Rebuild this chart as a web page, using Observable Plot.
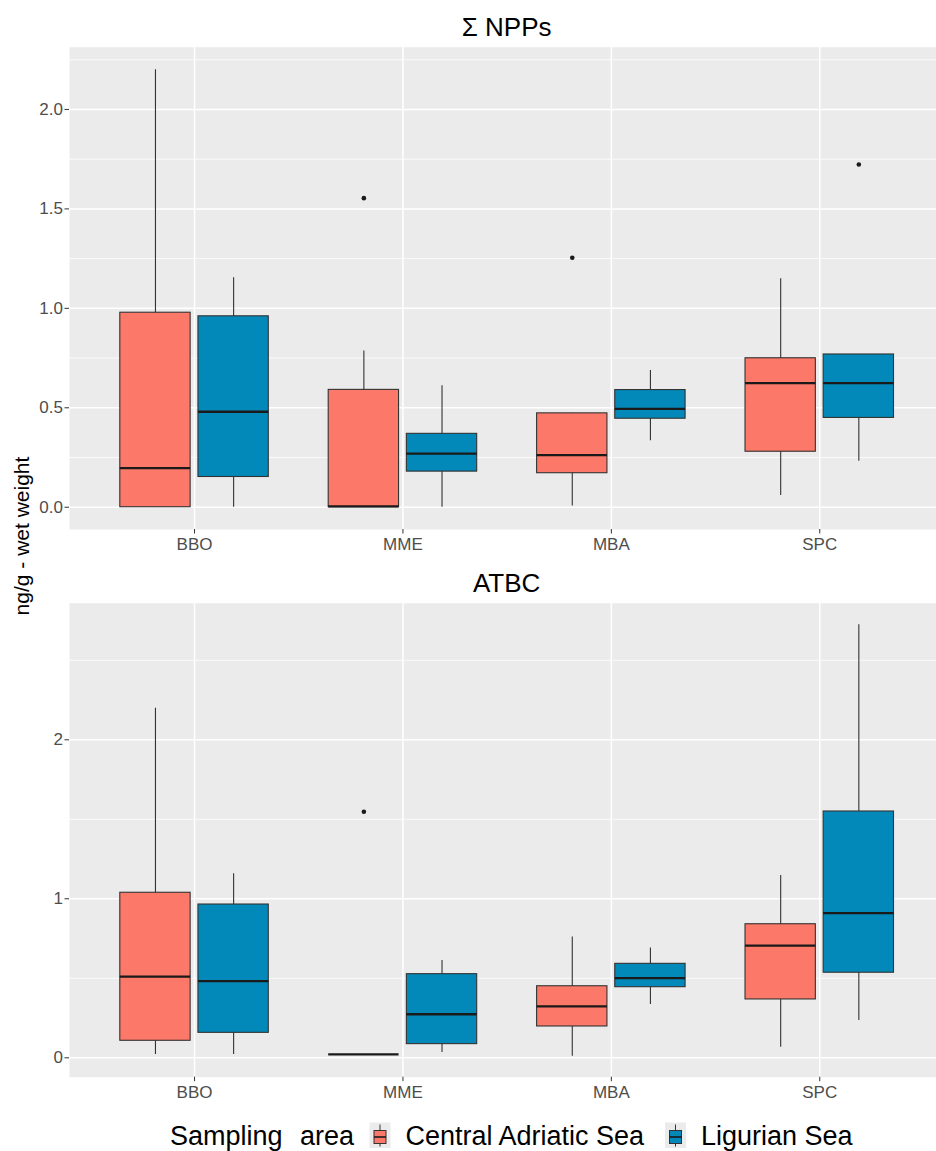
<!DOCTYPE html>
<html><head><meta charset="utf-8">
<script src="https://cdn.jsdelivr.net/npm/d3@7"></script>
<script src="https://cdn.jsdelivr.net/npm/@observablehq/plot@0.6"></script>
<style>
html,body{margin:0;padding:0;overflow:hidden;background:#fff;}
#wrap{position:relative;width:936px;height:1151px;overflow:hidden;background:#fff;font-family:"Liberation Sans",Arial,sans-serif;}
#wrap > * {position:absolute;left:0;}
</style></head><body><div id="wrap"></div>
<script>
// ---------- data ----------
const categories = ["BBO", "MME", "MBA", "SPC"];
const groups = ["Central Adriatic Sea", "Ligurian Sea"];
const groupColors = ["#FC7868", "#0289B9"];
const panelTitles = ["Σ NPPs", "ATBC"];
const yTitle = "ng/g - wet weight";
const legendTitle = "Sampling area";

// [lower whisker, Q1, median, Q3, upper whisker] for BBO, MME, MBA, SPC
const nppCentral  = [[0, 0, 0.197, 0.978, 2.2], [0, 0, 0.004, 0.59, 0.786], [0.006, 0.171, 0.262, 0.472, 0.472], [0.059, 0.279, 0.624, 0.749, 1.149]];
const nppLigurian = [[0, 0.152, 0.48, 0.96, 1.154], [0, 0.179, 0.27, 0.369, 0.611], [0.334, 0.445, 0.495, 0.589, 0.688], [0.231, 0.449, 0.624, 0.768, 0.768]];
const nppOutlierCats = ["MME", "MBA", "SPC"];
const nppOutlierGroups = ["Central Adriatic Sea", "Central Adriatic Sea", "Ligurian Sea"];
const nppOutlierValues = [1.554, 1.254, 1.723];

const atbcCentral  = [[0.021, 0.107, 0.511, 1.038, 2.199], [0.021, 0.021, 0.021, 0.021, 0.021], [0.01, 0.197, 0.323, 0.45, 0.759], [0.067, 0.367, 0.706, 0.84, 1.147]];
const atbcLigurian = [[0.021, 0.157, 0.482, 0.964, 1.157], [0.033, 0.086, 0.274, 0.526, 0.612], [0.335, 0.444, 0.501, 0.591, 0.69], [0.235, 0.535, 0.91, 1.549, 2.723]];
const atbcOutlierCats = ["MME"];
const atbcOutlierGroups = ["Central Adriatic Sea"];
const atbcOutlierValues = [1.547];

const nppTicks = [0, 0.5, 1, 1.5, 2];
const nppTickLabels = ["0.0", "0.5", "1.0", "1.5", "2.0"];
const nppMinor = [0.25, 0.75, 1.25, 1.75, 2.25];
const atbcTicks = [0, 1, 2];
const atbcTickLabels = ["0", "1", "2"];
const atbcMinor = [0.5, 1.5, 2.5];

// ---------- layout ----------
const FONT = "Liberation Sans, Arial, Helvetica, sans-serif";
const W = 946, ML = 69, MR = 1.7;
const step = (W - MR - ML) / 4.2;
const dodge = step * 0.75 / 4;
const boxW = step * 0.75 / 2 * 0.9;
const innerInset = step / 2 - dodge - boxW / 2;
const outerInset = step - innerInset - boxW;

function rowsFor(central, ligurian) {
  const rows = [];
  [central, ligurian].forEach((arr, gi) => arr.forEach((v, ci) => rows.push({
    cat: categories[ci], group: groups[gi], low: v[0], q1: v[1], med: v[2], q3: v[3], high: v[4]
  })));
  return rows;
}
function outliersFor(cats, grps, vals) {
  return cats.map((c, i) => ({cat: c, group: grps[i], value: vals[i]}));
}

function panel({rows, outliers, domain, ticks, tickLabels, minor, height, mTop, mBottom}) {
  const marks = [
    Plot.frame({fill: "#EBEBEB", stroke: "none"}),
    Plot.gridY(minor, {stroke: "white", strokeOpacity: 1, strokeWidth: 0.8}),
    Plot.gridY(ticks, {stroke: "white", strokeOpacity: 1, strokeWidth: 1.5}),
    Plot.gridX(categories, {stroke: "white", strokeOpacity: 1, strokeWidth: 1.5})
  ];
  groups.forEach((g, gi) => {
    const off = gi === 0 ? -dodge : dodge;
    const iL = gi === 0 ? innerInset : outerInset;
    const iR = gi === 0 ? outerInset : innerInset;
    const r = rows.filter(d => d.group === g);
    marks.push(
      Plot.ruleX(r, {x: "cat", y1: "low", y2: "high", dx: off, stroke: "#333", strokeWidth: 1.1}),
      Plot.barY(r, {x: "cat", y1: "q1", y2: "q3", fill: groupColors[gi], stroke: "#333", strokeWidth: 1.1, insetLeft: iL, insetRight: iR}),
      Plot.tickY(r, {x: "cat", y: "med", stroke: "#1a1a1a", strokeWidth: 2.3, insetLeft: iL, insetRight: iR}),
      Plot.dot(outliers.filter(d => d.group === g), {x: "cat", y: "value", dx: off, r: 2.3, fill: "#1a1a1a", stroke: "none"})
    );
  });
  marks.push(
    Plot.axisY(ticks, {tickFormat: d => tickLabels[ticks.indexOf(d)], tickSize: 4.5, tickPadding: 2, fontSize: 17, stroke: "#333", fill: "#4D4D4D", label: null}),
    Plot.axisX({tickSize: 4.5, tickPadding: 4, fontSize: 17, stroke: "#333", fill: "#4D4D4D", label: null})
  );
  return Plot.plot({
    width: W, height, marginLeft: ML, marginRight: MR, marginTop: mTop, marginBottom: mBottom,
    style: {maxWidth: "none", background: "transparent", fontFamily: FONT, overflow: "visible"},
    x: {type: "band", domain: categories, paddingInner: 0, paddingOuter: 0.1, align: 0.5, round: false},
    y: {domain, round: false},
    marks
  });
}

const wrap = document.getElementById("wrap");
const top1 = panel({
  rows: rowsFor(nppCentral, nppLigurian),
  outliers: outliersFor(nppOutlierCats, nppOutlierGroups, nppOutlierValues),
  domain: [-0.112, 2.313], ticks: nppTicks, tickLabels: nppTickLabels, minor: nppMinor,
  height: 560, mTop: 46.7, mBottom: 31
});
top1.style.top = "0px";
wrap.appendChild(top1);

const bot = panel({
  rows: rowsFor(atbcCentral, atbcLigurian),
  outliers: outliersFor(atbcOutlierCats, atbcOutlierGroups, atbcOutlierValues),
  domain: [-0.122, 2.859], ticks: atbcTicks, tickLabels: atbcTickLabels, minor: atbcMinor,
  height: 545, mTop: 42.7, mBottom: 28.3
});
bot.style.top = "560px";
wrap.appendChild(bot);

// ---------- overlay text: titles, y title, legend ----------
const svg = d3.create("svg").attr("width", 936).attr("height", 1151)
  .style("position", "absolute").style("top", "0px").style("left", "0px")
  .style("font-family", FONT);
const cx = (ML + W - MR) / 2;
svg.append("text").attr("x", cx).attr("y", 35.7).attr("text-anchor", "middle")
  .attr("font-size", 26).attr("fill", "#000").text(panelTitles[0]);
svg.append("text").attr("x", cx).attr("y", 592.3).attr("text-anchor", "middle")
  .attr("font-size", 26).attr("fill", "#000").text(panelTitles[1]);
svg.append("text").attr("transform", "translate(29,536) rotate(-90)").attr("text-anchor", "middle")
  .attr("font-size", 21).attr("fill", "#000").text(yTitle);

const lg = svg.append("g");
const base = 1145;
lg.append("text").attr("x", 170).attr("y", base).attr("font-size", 27).attr("fill", "#000")
  .style("word-spacing", "10px").text(legendTitle);
const keyX = [369.5, 665];
const textX = [405.5, 701];
groups.forEach((g, i) => {
  const kx = keyX[i];
  lg.append("rect").attr("x", kx).attr("y", 1122.5).attr("width", 21).attr("height", 25.5).attr("fill", "#EBEBEB");
  lg.append("line").attr("x1", kx + 10.5).attr("x2", kx + 10.5).attr("y1", 1124.5).attr("y2", 1146.5)
    .attr("stroke", "#333").attr("stroke-width", 1);
  lg.append("rect").attr("x", kx + 4.5).attr("y", 1130.5).attr("width", 12).attr("height", 13)
    .attr("fill", groupColors[i]).attr("stroke", "#333").attr("stroke-width", 1);
  lg.append("line").attr("x1", kx + 4.5).attr("x2", kx + 16.5).attr("y1", 1137).attr("y2", 1137)
    .attr("stroke", "#1a1a1a").attr("stroke-width", 1.6);
  lg.append("text").attr("x", textX[i]).attr("y", base).attr("font-size", 27).attr("fill", "#000").text(g);
});
wrap.appendChild(svg.node());
</script></body></html>
